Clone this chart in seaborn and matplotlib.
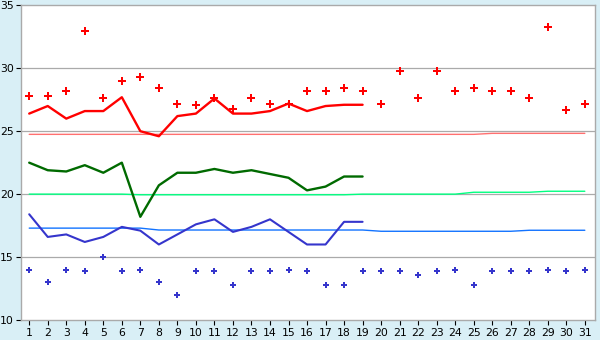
import numpy as np
import pandas as pd
import matplotlib
matplotlib.use("Agg")
import matplotlib.pyplot as plt
import seaborn as sns

days = list(range(1, 32))
days_obs = list(range(1, 20))

# daily maximum (red points)
max_pts = [27.8, 27.8, 28.2, 33.0, 27.6, 29.0, 29.3, 28.4, 27.2, 27.1,
           27.6, 26.8, 27.6, 27.2, 27.2, 28.2, 28.2, 28.4, 28.2, 27.2,
           29.8, 27.6, 29.8, 28.2, 28.4, 28.2, 28.2, 27.6, 33.3, 26.7, 27.2]
# daily minimum (blue points)
min_pts = [14.0, 13.0, 14.0, 13.9, 15.0, 13.9, 14.0, 13.0, 12.0, 13.9,
           13.9, 12.8, 13.9, 13.9, 14.0, 13.9, 12.8, 12.8, 13.9, 13.9,
           13.9, 13.6, 13.9, 14.0, 12.8, 13.9, 13.9, 13.9, 14.0, 13.9, 14.0]
# observed series (days 1-19)
max_line = [26.4, 27.0, 26.0, 26.6, 26.6, 27.7, 25.0, 24.6, 26.2, 26.4,
            27.6, 26.4, 26.4, 26.6, 27.2, 26.6, 27.0, 27.1, 27.1]
mean_line = [22.5, 21.9, 21.8, 22.3, 21.7, 22.5, 18.2, 20.7, 21.7, 21.7,
             22.0, 21.7, 21.9, 21.6, 21.3, 20.3, 20.6, 21.4, 21.4]
min_line = [18.4, 16.6, 16.8, 16.2, 16.6, 17.4, 17.1, 16.0, 16.8, 17.6,
            18.0, 17.0, 17.4, 18.0, 17.0, 16.0, 16.0, 17.8, 17.8]
# normals
max_norm = [24.75] * 25 + [24.83] * 6
mean_norm = [20.0] * 6 + [19.95] * 12 + [20.0] * 6 + [20.15] * 4 + [20.23] * 3
min_norm = [17.3] * 7 + [17.15] * 12 + [17.05] * 8 + [17.13] * 4

yticks = [10, 15, 20, 25, 30, 35]

sns.set_theme(style="white")
plt.rcParams['font.family'] = ['DejaVu Sans']

bg = "#D9EFF6"
fig = plt.figure(figsize=(6, 3.4), dpi=100, facecolor=bg)
ax = fig.add_axes([0.0345, 0.0588, 0.9572, 0.9255])
ax.set_facecolor("white")

full = pd.DataFrame({"day": days, "max_pts": max_pts, "min_pts": min_pts,
                     "max_norm": max_norm, "mean_norm": mean_norm, "min_norm": min_norm})
obs = pd.DataFrame({"day": days_obs, "max_line": max_line,
                    "mean_line": mean_line, "min_line": min_line})

for y in [15, 20, 25, 30]:
    ax.axhline(y, color="#AAAAAA", lw=0.9, zorder=0.5)

sns.lineplot(data=full, x="day", y="max_norm", color="#FF7070", lw=1.0, ax=ax, zorder=2)
sns.lineplot(data=full, x="day", y="mean_norm", color="#00FF80", lw=1.0, ax=ax, zorder=2)
sns.lineplot(data=full, x="day", y="min_norm", color="#1273FF", lw=1.0, ax=ax, zorder=2)

sns.lineplot(data=obs, x="day", y="max_line", color="#FF0000", lw=1.7, ax=ax, zorder=3)
sns.lineplot(data=obs, x="day", y="mean_line", color="#006A00", lw=1.7, ax=ax, zorder=3)
sns.lineplot(data=obs, x="day", y="min_line", color="#3535CC", lw=1.5, ax=ax, zorder=3)

sns.scatterplot(data=full, x="day", y="max_pts", color="#FF0000", marker="P",
                s=26, linewidth=0, ax=ax, zorder=4)
sns.scatterplot(data=full, x="day", y="min_pts", color="#3535CC", marker="P",
                s=18, linewidth=0, ax=ax, zorder=4)

ax.set_xlim(0.54, 31.55)
ax.set_ylim(10, 35)
ax.set_xticks(days)
ax.set_xticklabels([str(d) for d in days])
ax.set_yticks(yticks)
ax.set_yticklabels([str(t) for t in yticks])
ax.set_xlabel("")
ax.set_ylabel("")
ax.tick_params(axis="both", labelsize=7.8, colors="black", length=3.5, width=0.8,
               pad=1.5, direction="out")
ax.tick_params(axis="x", pad=2)
ax.tick_params(left=True, bottom=True)
for sp in ax.spines.values():
    sp.set_color("#AAAAAA")
    sp.set_linewidth(1.0)

fig.savefig("out.png", dpi=100, facecolor=bg)
